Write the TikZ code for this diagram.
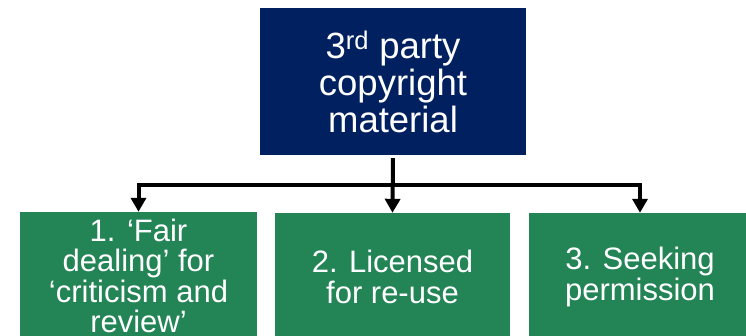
\documentclass[tikz,border=0pt]{standalone}
\usepackage{fontspec}
\setmainfont{Liberation Sans}
\usetikzlibrary{arrows.meta}

\definecolor{navybox}{RGB}{0,32,96}
\definecolor{greenbox}{RGB}{35,132,86}

\tikzset{
  topbox/.style={fill=navybox, text=white, align=center, minimum width=266pt, minimum height=147pt, inner sep=0pt, font=\fontsize{36.5}{37}\selectfont},
  routebox/.style={fill=greenbox, text=white, align=center, minimum height=128pt, inner sep=0pt, font=\fontsize{31}{30.5}\selectfont},
  arr/.style={line width=4pt, -{Triangle[width=15pt,length=14pt]}}
}

\begin{document}
\begin{tikzpicture}[x=1pt,y=-1pt]
        \useasboundingbox (0,0) rectangle (746,336);
        \clip (0,0) rectangle (746,336);
        \node[topbox] (src) at (393,81.5) {3\textsuperscript{rd} party\\copyright\\material};
        \node[routebox, minimum width=237pt] (fair) at (138.5,276) {1. ‘Fair\\dealing’ for\\‘criticism and\\review’};
        \node[routebox, minimum width=235pt] (lic) at (392.5,277) {2. Licensed\\for re-use};
        \node[routebox, minimum width=222pt] (perm) at (640,277) {3. Seeking\\permission};
        \coordinate (bus) at (393,185);
        \draw[arr, shorten <=3pt] (src.south) -- (lic.north);
        \draw[arr, line join=miter] (bus) -| (fair.north);
        \draw[arr, line join=miter] (bus) -| (perm.north);
    \end{tikzpicture}
\end{document}
